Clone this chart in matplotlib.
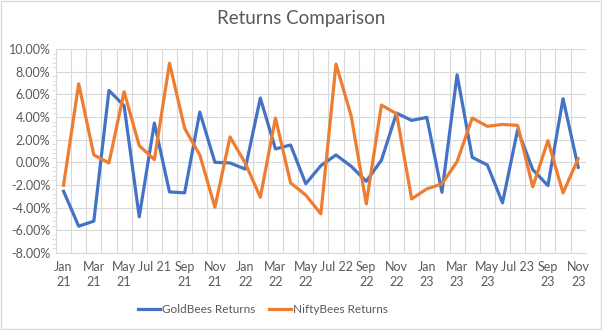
import matplotlib
matplotlib.use("Agg")
import matplotlib.pyplot as plt
from matplotlib.patches import Rectangle
from matplotlib.ticker import FuncFormatter, MultipleLocator
import numpy as np

months = ["Jan 21","Feb 21","Mar 21","Apr 21","May 21","Jun 21","Jul 21","Aug 21","Sep 21","Oct 21","Nov 21","Dec 21",
          "Jan 22","Feb 22","Mar 22","Apr 22","May 22","Jun 22","Jul 22","Aug 22","Sep 22","Oct 22","Nov 22","Dec 22",
          "Jan 23","Feb 23","Mar 23","Apr 23","May 23","Jun 23","Jul 23","Aug 23","Sep 23","Oct 23","Nov 23"]
gold = [-2.56,-5.65,-5.2,6.35,5.0,-4.82,3.47,-2.62,-2.7,4.44,0.0,-0.06,
        -0.6,5.68,1.18,1.53,-1.9,-0.3,0.65,-0.35,-1.68,0.18,4.35,3.7,
        3.97,-2.65,7.74,0.44,-0.24,-3.59,2.88,-0.65,-2.06,5.62,-0.44]
nifty = [-2.03,6.94,0.65,-0.06,6.24,1.47,0.24,8.76,3.0,0.65,-3.97,2.24,
         -0.06,-3.09,3.91,-1.82,-2.9,-4.56,8.68,4.12,-3.68,5.06,4.29,-3.24,
         -2.35,-1.91,0.06,3.91,3.18,3.35,3.26,-2.18,1.91,-2.71,0.32]
series_names = ["GoldBees Returns", "NiftyBees Returns"]
title = "Returns Comparison"

plt.rcParams['font.family'] = ['Lato', 'DejaVu Sans']
fig = plt.figure(figsize=(6.02, 3.30), dpi=100)
fig.patches.append(Rectangle((0.001, 0.002), 0.997, 0.995, transform=fig.transFigure,
                             fill=False, edgecolor="#D9D9D9", linewidth=1))
ax = fig.add_axes([0.093, 0.234, 0.88, 0.617])

x = np.arange(len(months))
ax.plot(x, gold, color="#4472C4", linewidth=2.3, label=series_names[0], solid_joinstyle="round")
ax.plot(x, nifty, color="#ED7D31", linewidth=2.3, label=series_names[1], solid_joinstyle="round")

ax.set_xlim(-0.5, len(months) - 0.5)
ax.set_ylim(-8, 10)
ax.yaxis.set_major_locator(MultipleLocator(2))
ax.yaxis.set_major_formatter(FuncFormatter(lambda v, p: f"{v:.2f}%"))
ax.yaxis.set_minor_locator(MultipleLocator(0.4))
ax.grid(axis="y", which="major", color="#D9D9D9", linewidth=0.8)
for b in np.arange(-0.5, len(months), 1.0):
    ax.axvline(b, color="#D9D9D9", linewidth=0.8, zorder=0)
ax.set_axisbelow(True)

labels = []
for i, m in enumerate(months):
    if i % 2 == 0:
        mo, yr = m.split()
        labels.append(m if mo == "Jul" else f"{mo}\n{yr}")
ax.set_xticks(x[::2])
ax.set_xticklabels(labels, fontsize=9, color="#595959", linespacing=1.3, va="top")
ax.tick_params(axis="x", length=0, pad=6)
ax.tick_params(axis="y", which="major", length=0, labelsize=9, labelcolor="#595959", pad=4)
ax.tick_params(axis="y", which="minor", length=3, color="#D9D9D9", direction="out")
for s in ax.spines.values():
    s.set_visible(False)
ax.spines["left"].set_visible(True)
ax.spines["left"].set_color("#D9D9D9")
ax.spines["bottom"].set_visible(True)
ax.spines["bottom"].set_color("#D9D9D9")

fig.text(0.5, 0.945, title, ha="center", va="center", fontsize=13.5, color="#595959")
fig.legend(loc="center", bbox_to_anchor=(0.437, 0.063), ncol=2, frameon=False, fontsize=8.5,
           handlelength=1.8, handletextpad=0.2, columnspacing=1.2, labelcolor="#595959")

fig.savefig("out.png", dpi=100)
